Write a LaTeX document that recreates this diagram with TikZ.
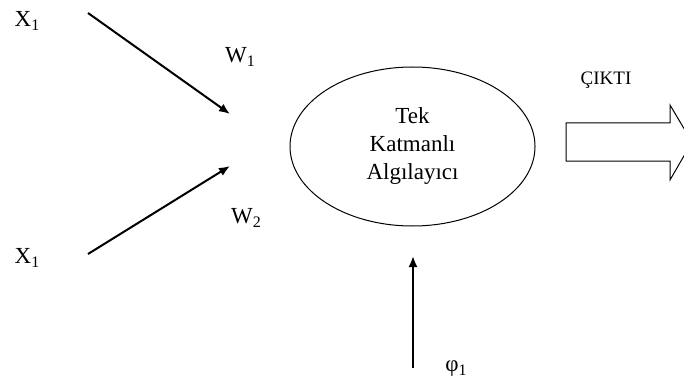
\documentclass[tikz,border=0pt]{standalone}
\usepackage{fontspec}
\setmainfont{Liberation Serif}
\usetikzlibrary{arrows.meta,shapes.geometric}
\newcommand{\sbs}[1]{\raisebox{-0.35ex}{\fontsize{16pt}{18pt}\selectfont #1}}
\begin{document}
\begin{tikzpicture}[x=1pt,y=-1pt,
  lbl/.style={inner sep=0pt,font=\fontsize{23pt}{27pt}\selectfont},
  inarrow/.style={line width=2pt,-{Latex[length=11pt,width=9pt]}}]
\useasboundingbox (0,0) rectangle (684,382);
\node[lbl] (x1) at (27,21) {X\sbs{1}};
\node[lbl] (x2) at (27,258) {X\sbs{1}};
\node[lbl] (w1) at (240,57) {W\sbs{1}};
\node[lbl] (w2) at (246,218) {W\sbs{2}};
\coordinate (a1s) at (88,13);
\coordinate (a1e) at (230,114);
\coordinate (a2s) at (88,254);
\coordinate (a2e) at (230,166);
\draw[inarrow] (a1s) -- (a1e);
\draw[inarrow] (a2s) -- (a2e);
\node[ellipse,draw,line width=1pt,minimum width=245pt,minimum height=159pt,
  align=center,font=\fontsize{23pt}{28pt}\selectfont] (per) at (412.5,146.5)
  {Tek\\Katmanlı\\Algılayıcı};
\node[lbl,font=\fontsize{19pt}{22pt}\selectfont] (out) at (606,80) {ÇIKTI};
\coordinate (b1) at (566,123);
\draw[line width=1pt] (b1) -- (670,123) -- (670,105) -- (692,142)
  -- (670,180) -- (670,161) -- (566,161) -- cycle;
\coordinate (phs) at (413,368);
\coordinate (phe) at (413,256);
\draw[inarrow] (phs) -- (phe);
\node[lbl] (phi) at (456,369) {φ\sbs{1}};
\end{tikzpicture}
\end{document}
